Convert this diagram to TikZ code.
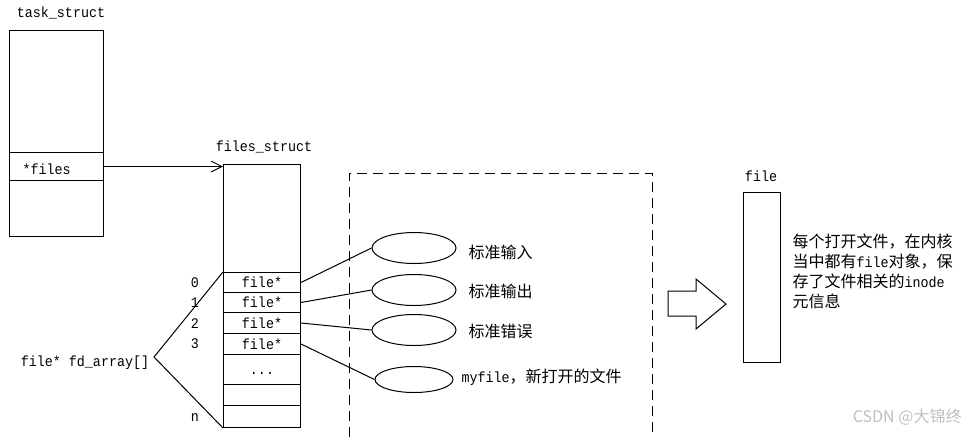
\documentclass[tikz,border=0pt]{standalone}
\usepackage{fontspec}
\setmainfont[FakeStretch=0.91]{Liberation Mono}
\newfontfamily\cjk{Noto Sans CJK SC}
\newcommand{\entxt}[1]{{\rmfamily\fontsize{11pt}{15pt}\selectfont #1}}
\usetikzlibrary{shapes.geometric,arrows.meta}
\tikzset{
	cell/.style={draw, anchor=north west, minimum width=57.75pt, inner sep=0pt},
	ring/.style={draw, ellipse, inner sep=0pt, minimum width=63pt, minimum height=23.25pt},
	lbl/.style={anchor=west, inner sep=0pt, font=\cjk\fontsize{12pt}{15pt}\selectfont}
}
\begin{document}
\begin{tikzpicture}[x=0.75pt, y=-0.75pt, line width=0.75pt, font=\fontsize{11pt}{13pt}\selectfont]
			\useasboundingbox (0,0) rectangle (966,437);
			\node (tslabel) at (61,13) {task\_struct};
			\node[cell, minimum width=70.5pt, minimum height=91.5pt] (tstop) at (9,30) {};
			\node[cell, minimum width=70.5pt, minimum height=21pt, text width=51pt, inner xsep=9.75pt, align=left, text depth=0pt] (tsfiles) at (9,152) {\raisebox{-4pt}{*files}};
			\node[cell, minimum width=70.5pt, minimum height=42pt] (tsbot) at (9,180) {};
			\node (fslabel) at (264,147) {files\_struct};
			\node[cell, minimum height=81pt] (fstop) at (223,164) {};
			\foreach \i/\y/\h in {0/272/15,1/292/15,2/312/15.75,3/333/15.75}
				\node[cell, minimum height=\h pt] (r\i) at (223,\y) {file*};
			\node[cell, minimum height=22.5pt] (rdots) at (223,354) {\vphantom{f}...};
			\node[cell, minimum height=15.75pt] (rgap) at (223,384) {};
			\node[cell, minimum height=16.5pt] (rn) at (223,405) {};
			\foreach \i/\y in {0/283,1/303,2/324,3/344,n/418}
				\node (idx\i) at (195,\y) {\i};
			\node (fdarr) at (85,363) {file* fd\_array[]};
			\draw (r0.north west) -- ([yshift=4.5pt]fdarr.east) -- (rn.south west);
			\draw[-{Straight Barb[length=8pt,width=8pt]}] (tsfiles.east) -- (tsfiles.east -| fstop.west);
			\draw[dash pattern=on 7.5pt off 4.5pt] (349,437) -- (349,173) -- (652,173) -- (652,437);
			\foreach \i/\y in {1/248,2/290,3/330}
				\node[ring] (e\i) at (414,\y) {};
			\node[ring, minimum width=58.5pt, minimum height=19.5pt] (e4) at (414,379.5) {};
			\node[lbl] (t1) at (468,252) {标准输入};
			\node[lbl] (t2) at (468,291) {标准输出};
			\node[lbl] (t3) at (468,331) {标准错误};
			\node[lbl] (t4) at (461,377) {\entxt{myfile}，新打开的文件};
			\foreach \i/\j in {0/1,1/2,2/3,3/4}
				\draw (r\i.east) -- (e\j.west);
			\draw (668,291) -- (696,291) -- (696,279) -- (726,304) -- (696,329) -- (696,316) -- (668,316) -- cycle;
			\node (filelabel) at (761,176) {file};
			\node[cell, minimum width=27.75pt, minimum height=127.5pt] (filebox) at (743,192) {};
			\node[anchor=north west, align=left, inner sep=0pt, font=\cjk\fontsize{12pt}{15pt}\selectfont] (desc) at (792,233) {每个打开文件，在内核\\当中都有\entxt{file}对象，保\\存了文件相关的\entxt{inode}\\元信息};
			\node[anchor=east, inner sep=0pt, text=black!25, font=\cjk\fontsize{12pt}{14pt}\selectfont] (mark) at (962,417) {CSDN @大锦终};
		\end{tikzpicture}
\end{document}
